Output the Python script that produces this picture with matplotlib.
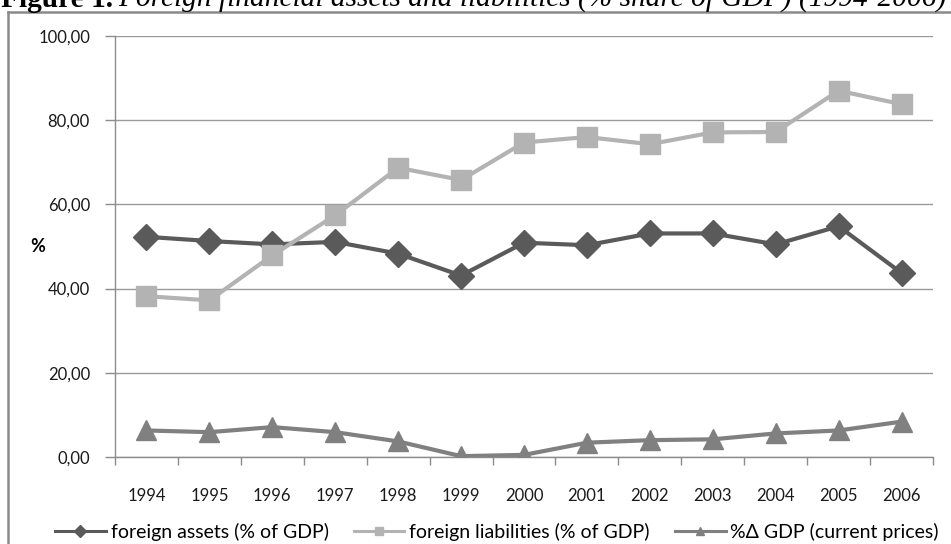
import numpy as np
import matplotlib
matplotlib.use("Agg")
import matplotlib.pyplot as plt
from matplotlib.lines import Line2D
from matplotlib.ticker import FixedLocator, FuncFormatter

years = ["1994", "1995", "1996", "1997", "1998", "1999", "2000",
         "2001", "2002", "2003", "2004", "2005", "2006"]
foreign_assets = [52.3, 51.3, 50.5, 51.1, 48.3, 43.1, 50.9,
                  50.3, 53.1, 53.1, 50.5, 54.8, 43.7]
foreign_liabilities = [38.2, 37.2, 47.9, 57.4, 68.7, 65.8, 74.7,
                       76.0, 74.3, 77.1, 77.2, 87.0, 83.8]
gdp_change = [6.3, 5.9, 7.1, 5.9, 3.7, 0.2, 0.5,
              3.4, 4.0, 4.2, 5.6, 6.3, 8.4]
y_ticks = [0, 20, 40, 60, 80, 100]

labels = ["foreign assets (% of GDP)", "foreign liabilities (% of GDP)",
          "%\u0394 GDP (current prices)"]
colors = ["#5a5a5a", "#b3b3b3", "#808080"]
markers = ["D", "s", "^"]

plt.rcParams.update({
    "font.family": ["Lato", "DejaVu Sans"],
    "font.size": 11,
})

W, H = 951, 544
fig = plt.figure(figsize=(W / 100, H / 100), dpi=100)
ax = fig.add_axes([115 / W, 1 - 457 / H, (933 - 115) / W, (457 - 36) / H])

x = np.arange(len(years))
series = [foreign_assets, foreign_liabilities, gdp_change]
msizes = [13, 14, 14]
for vals, c, m, ms in zip(series, colors, markers, msizes):
    ax.plot(x, vals, color=c, lw=3.0, marker=m, markersize=ms,
            markeredgecolor=c, zorder=3)

ax.set_xlim(-0.5, len(years) - 0.5)
ax.set_ylim(0, 100)

ax.set_xticks(x)
ax.set_xticklabels(years, fontsize=12, color="#1a1a1a")
ax.xaxis.set_minor_locator(FixedLocator(np.arange(len(years) + 1) - 0.5))
ax.xaxis.set_tick_params(which="major", length=0, pad=22)
ax.xaxis.set_tick_params(which="minor", length=6, width=1, color="#8c8c8c",
                         direction="out")

ax.set_yticks(y_ticks)
ax.yaxis.set_major_formatter(FuncFormatter(lambda v, p: f"{v:.2f}".replace(".", ",")))
ax.tick_params(axis="y", length=7, width=1, color="#8c8c8c", pad=11,
               labelsize=12, labelcolor="#1a1a1a")
ax.grid(axis="y", color="#9a9a9a", lw=1)
ax.set_axisbelow(True)

for s in ["top", "right"]:
    ax.spines[s].set_visible(False)
for s in ["left", "bottom"]:
    ax.spines[s].set_color("#8c8c8c")
    ax.spines[s].set_linewidth(1)

fig.text(38 / W, 1 - 247 / H, "%", fontsize=13, fontweight="bold",
         ha="center", va="center")

handles = [Line2D([], [], color=c, lw=2.2, marker=m, markersize=6,
                  markeredgecolor=c) for c, m in zip(colors, markers)]
fig.legend(handles, labels, loc="center", bbox_to_anchor=(497 / W, 1 - 532 / H),
           ncol=3, frameon=False, fontsize=14, handlelength=2.6,
           handletextpad=0.25, columnspacing=1.3, borderaxespad=0)

# frame of the figure (left and top edges only are visible)
fig.add_artist(Line2D([8 / W, 8 / W], [0, 1 - 12 / H], color="#8a8a8a", lw=1.8,
                      transform=fig.transFigure))
fig.add_artist(Line2D([8 / W, 1], [1 - 12 / H, 1 - 12 / H], color="#8a8a8a", lw=1.8,
                      transform=fig.transFigure))

# caption, cut off at the top edge as in the source
t1 = fig.text(1 / W, 1 - 7 / H, "Figure 1.", family="Liberation Serif",
              fontweight="bold", fontsize=21.2, va="baseline", ha="left")
fig.canvas.draw()
bb = t1.get_window_extent()
fig.text(bb.x1 / W + 5 / W, 1 - 7 / H,
         "Foreign financial assets and liabilities (% share of GDP) (1994-2006)",
         family="Liberation Serif", style="italic", fontsize=21.2,
         va="baseline", ha="left")

fig.savefig("out.png", dpi=100)
